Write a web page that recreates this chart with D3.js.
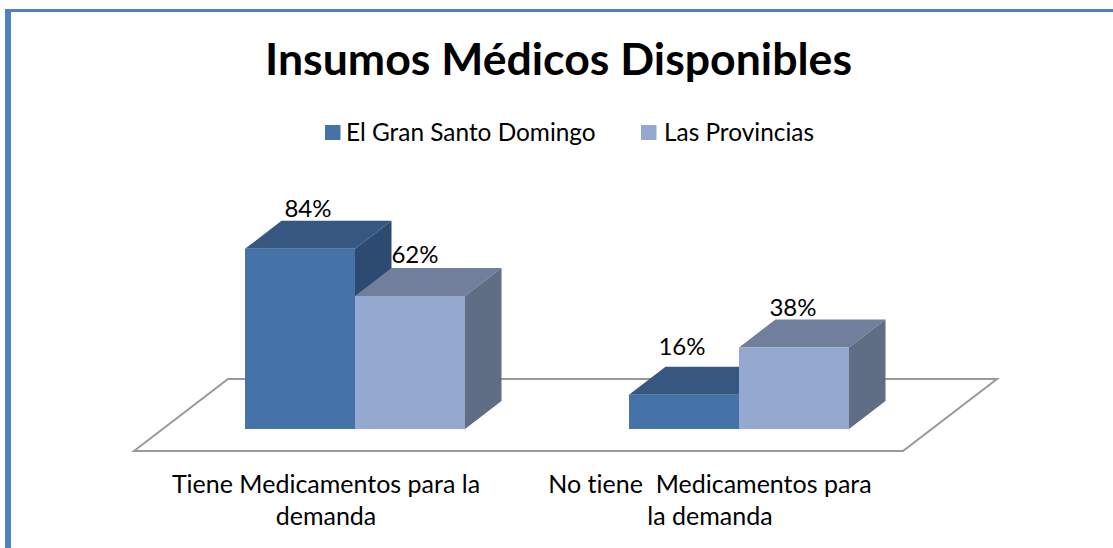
<!DOCTYPE html>
<html>
<head>
<meta charset="utf-8">
<script src="https://cdn.jsdelivr.net/npm/d3@7"></script>
<style>
  html, body { margin: 0; padding: 0; background: #fff; }
  svg { display: block; }
  text { font-family: Lato, "Open Sans", sans-serif; fill: #000; white-space: pre; font-variant-ligatures: none; }
</style>
</head>
<body>
<svg width="1113" height="548"></svg>
<script>
const categories = ['Tiene Medicamentos para la demanda', 'No tiene  Medicamentos para la demanda'];
const categoryLines = [['Tiene Medicamentos para la', 'demanda'], ['No tiene  Medicamentos para', 'la demanda']];
const series = ['El Gran Santo Domingo', 'Las Provincias'];
const granSantoDomingo = [84, 16];
const lasProvincias = [62, 38];

const seriesValues = [granSantoDomingo, lasProvincias];
const colors = [
  { front: '#4572a7', top: '#36577f', side: '#2d4a70' },
  { front: '#95a9d0', top: '#717f9c', side: '#5f6d85' }
];

const svg = d3.select('svg');

// frame
svg.append('rect').attr('x', 5).attr('y', 9).attr('width', 1108).attr('height', 3).attr('fill', '#4f81bd');
svg.append('rect').attr('x', 5).attr('y', 9).attr('width', 6).attr('height', 539).attr('fill', '#4f81bd');

svg.append('text')
  .attr('x', 558.5).attr('y', 75)
  .attr('text-anchor', 'middle')
  .attr('font-size', 43).attr('font-weight', 700)
  .attr('textLength', 587).attr('lengthAdjust', 'spacingAndGlyphs')
  .text('Insumos Médicos Disponibles');

// scales
const x0 = d3.scaleBand().domain(categories).range([163, 931]).paddingInner(164 / 384).paddingOuter(82 / 384);
const x1 = d3.scaleBand().domain(series).range([0, x0.bandwidth()]);
const y = d3.scaleLinear().domain([0, 100]).range([429, 214.5]);
const depthX = 36.5;
const depthY = 28;

// floor
const floorFront = 451, floorBack = 379;
svg.append('path')
  .attr('d', d3.line()([[134, floorFront], [228, floorBack], [997, floorBack], [903, floorFront]]) + 'Z')
  .attr('fill', '#fff').attr('stroke', '#999').attr('stroke-width', 2);

// bars
const bars = svg.append('g');
categories.forEach((cat, i) => {
  series.forEach((name, s) => {
    const xa = x0(cat) + x1(name);
    const xb = xa + x1.bandwidth();
    const yt = y(seriesValues[s][i]);
    const yb = y(0);
    const c = colors[s];
    const g = bars.append('g').attr('class', 'bar');
    g.append('polygon')
      .attr('points', [[xa, yt], [xa + depthX, yt - depthY], [xb + depthX, yt - depthY], [xb, yt]].join(' '))
      .attr('fill', c.top);
    g.append('polygon')
      .attr('points', [[xb, yt], [xb + depthX, yt - depthY], [xb + depthX, yb - depthY], [xb, yb]].join(' '))
      .attr('fill', c.side);
    g.append('rect')
      .attr('x', xa).attr('y', yt)
      .attr('width', xb - xa).attr('height', yb - yt)
      .attr('fill', c.front);
  });
});

// value labels, nudged to where the original puts them
const labelNudge = [[[8, -32], [5, -33]], [[-2, -40], [-1, -31]]];
categories.forEach((cat, i) => {
  series.forEach((name, s) => {
    const v = seriesValues[s][i];
    svg.append('text')
      .attr('x', x0(cat) + x1(name) + x1.bandwidth() / 2 + labelNudge[i][s][0])
      .attr('y', y(v) + labelNudge[i][s][1])
      .attr('text-anchor', 'middle')
      .attr('font-size', 24)
      .text(v + '%');
  });
});

// category labels
categories.forEach((cat, i) => {
  const cx = x0(cat) + x0.bandwidth() / 2 - 29;
  categoryLines[i].forEach((line, k) => {
    svg.append('text')
      .attr('x', cx).attr('y', 492.5 + k * 32)
      .attr('text-anchor', 'middle')
      .attr('font-size', 25)
      .text(line);
  });
});

// legend
const legendX = [325, 641];
const legendTextX = [346, 664];
series.forEach((name, s) => {
  svg.append('rect')
    .attr('x', legendX[s]).attr('y', 125)
    .attr('width', 15.5).attr('height', 15)
    .attr('fill', colors[s].front);
  svg.append('text')
    .attr('x', legendTextX[s]).attr('y', 141)
    .attr('font-size', 24.4)
    .text(name);
});
</script>
</body>
</html>
